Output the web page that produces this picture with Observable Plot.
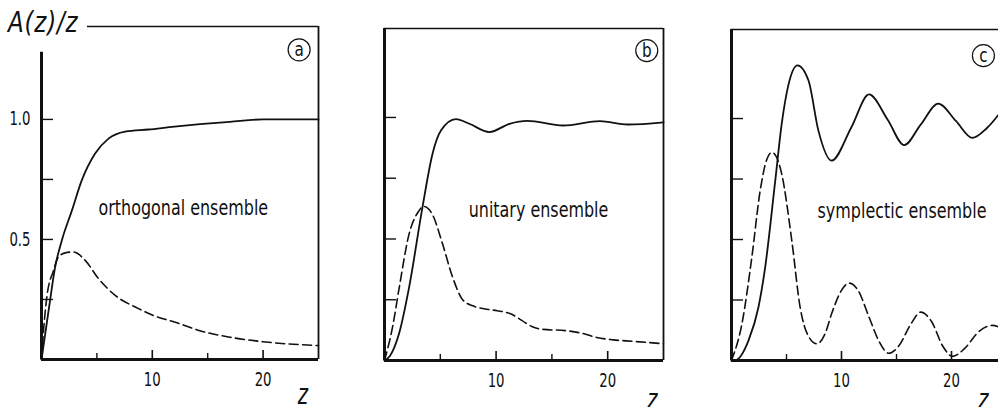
<!DOCTYPE html>
<html>
<head>
<meta charset="utf-8">
<script src="https://cdn.jsdelivr.net/npm/d3@7"></script>
<script src="https://cdn.jsdelivr.net/npm/@observablehq/plot@0.6"></script>
<style>
  html, body { margin: 0; padding: 0; background: #fff; }
  #fig {
    position: relative; width: 998px; height: 407px; overflow: hidden; background: #fff;
    font-family: "DejaVu Sans", sans-serif; color: #111;
  }
  .panel { position: absolute; top: 0; }
  #ylabel {
    position: absolute; left: 8px; top: 9px; font-style: italic; font-size: 28px;
    letter-spacing: 1px; line-height: 1; white-space: nowrap;
    transform: scaleX(0.82); transform-origin: 0 0;
  }
</style>
</head>
<body>
<div id="fig"><div id="ylabel">A(z)/z</div></div>
<script>
// Orthogonal ensemble (a)
const orthSolidZ = [0, 0.63, 1.23, 1.84, 2.74, 3.64, 4.84, 6.05, 7.55, 9.66, 12, 14.3, 17, 20, 22.5, 25];
const orthSolid  = [0, 0.20, 0.385, 0.497, 0.62, 0.747, 0.858, 0.92, 0.949, 0.958, 0.97, 0.98, 0.99, 1.0, 1.0, 1.0];
const orthDashZ  = [0, 0.2, 0.48, 1.08, 1.53, 2.14, 2.89, 3.94, 5.14, 6.65, 8.75, 10, 12.3, 14.3, 17, 20, 25];
const orthDash   = [0, 0.13, 0.26, 0.37, 0.427, 0.444, 0.448, 0.413, 0.337, 0.267, 0.212, 0.185, 0.152, 0.12, 0.093, 0.074, 0.058];

// Unitary ensemble (b)
const unitSolidZ = [0, 0.5, 1.3, 2.2, 3.4, 4.3, 5.07, 6.4, 7.6, 9.4, 11.2, 12.8, 16, 19.3, 21.8, 25];
const unitSolid  = [0, 0.02, 0.11, 0.30, 0.63, 0.85, 0.947, 0.993, 0.974, 0.94, 0.974, 0.986, 0.967, 0.985, 0.971, 0.98];
const unitDashZ  = [0, 0.72, 1.32, 2.2, 3.0, 3.5, 4.3, 5.2, 6.1, 7.0, 7.9, 9.0, 10.1, 11.4, 12.3, 13.2, 14.2, 16.2, 17.7, 19, 20.5, 22.2, 25];
const unitDash   = [0, 0.137, 0.30, 0.52, 0.61, 0.634, 0.60, 0.48, 0.343, 0.25, 0.225, 0.212, 0.205, 0.19, 0.165, 0.14, 0.128, 0.123, 0.112, 0.095, 0.085, 0.079, 0.069];

// Symplectic ensemble (c)
const sympSolidZ = [0, 0.3, 1.55, 2.45, 3.06, 3.97, 4.57, 5.18, 6.0, 7.0, 7.9, 9.1, 10.9, 12.5, 14.2, 15.7, 17.2, 18.8, 20.4, 21.9, 23.2, 25];
const sympSolid  = [0, 0.0, 0.083, 0.22, 0.385, 0.74, 0.98, 1.14, 1.22, 1.157, 0.95, 0.826, 0.964, 1.10, 0.995, 0.89, 0.975, 1.062, 0.99, 0.92, 0.96, 1.06];
const sympDashZ  = [0, 0.94, 1.85, 2.6, 3.2, 3.67, 4.1, 4.57, 5.48, 6.24, 7.0, 7.76, 8.5, 9.1, 10.0, 10.7, 11.5, 12.5, 13.4, 14.3, 15.2, 16.3, 17.2, 18.2, 19.2, 20.1, 21.2, 22.5, 23.7, 25];
const sympDash   = [0, 0.15, 0.427, 0.70, 0.83, 0.86, 0.84, 0.77, 0.496, 0.22, 0.10, 0.069, 0.11, 0.193, 0.29, 0.32, 0.29, 0.18, 0.08, 0.03, 0.06, 0.15, 0.20, 0.16, 0.06, 0.017, 0.05, 0.12, 0.145, 0.12];

// Axis ticks and labels
const majorTicksX = [10, 20];
const minorTicksX = [5, 15];
const ticksY = [0.25, 0.5, 0.75, 1.0];
const labelTicksY = [0.5, 1.0];
const ensembleNames = ["orthogonal ensemble", "unitary ensemble", "symplectic ensemble"];
const panelLetters = ["a", "b", "c"];

const zip = (zs, vs) => zs.map((z, i) => ({z, v: vs[i]}));

const panels = [
  {solid: zip(orthSolidZ, orthSolid), dash: zip(orthDashZ, orthDash),
   left: 0, width: 330, mL: 41, mR: 12, mT: 26, mB: 48, yMax: 1.387,
   leftTop: 1.28, topFrom: 4.15, yLabels: true,
   name: {z: 12.8, v: 0.63}, letter: {z: 23.25, v: 1.29}, zLab: {z: 23.6, dy: 44}},
  {solid: zip(unitSolidZ, unitSolid), dash: zip(unitDashZ, unitDash),
   left: 340, width: 330, mL: 44, mR: 7, mT: 28, mB: 47, yMax: 1.366,
   leftTop: 1.366, topFrom: 0, yLabels: false,
   name: {z: 13.8, v: 0.617}, letter: {z: 23.5, v: 1.275}, zLab: {z: 24.0, dy: 48}},
  {solid: zip(sympSolidZ, sympSolid), dash: zip(sympDashZ, sympDash),
   left: 680, width: 340, mL: 51, mR: 14, mT: 29, mB: 47, yMax: 1.368,
   leftTop: 1.368, topFrom: 0, yLabels: false,
   name: {z: 15.5, v: 0.616}, letter: {z: 22.9, v: 1.26}, zLab: {z: 22.9, dy: 48}}
];

const ink = "#111";
const fig = document.getElementById("fig");

// Narrow the glyphs of a text group horizontally, about each text's anchor.
function condense(svg, tag, k) {
  svg.querySelectorAll(`g[aria-description="${tag}"] text`).forEach(t => {
    let tr = t.getAttribute("transform") || "";
    if (!tr) {
      const x = +(t.getAttribute("x") || 0), y = +(t.getAttribute("y") || 0);
      t.removeAttribute("x"); t.removeAttribute("y");
      tr = `translate(${x},${y})`;
    }
    t.setAttribute("transform", `${tr} scale(${k},1)`);
  });
}

panels.forEach((p, i) => {
  const marks = [
    // frame
    Plot.ruleY([0], {stroke: ink, strokeWidth: 3}),
    Plot.ruleX([0], {y1: 0, y2: p.leftTop, stroke: ink, strokeWidth: 3}),
    Plot.ruleX([25], {stroke: ink, strokeWidth: 1.8}),
    Plot.ruleY([p.yMax], {x1: p.topFrom, x2: 25, stroke: ink, strokeWidth: 1.6}),
    // inward ticks
    Plot.axisY({ticks: ticksY, tickSize: -12, tickFormat: () => "", label: null, stroke: ink, strokeWidth: 1.4}),
    Plot.axisX({ticks: majorTicksX, tickSize: -9, tickFormat: () => "", label: null, stroke: ink, strokeWidth: 1.6}),
    Plot.axisX({ticks: minorTicksX, tickSize: -6, tickFormat: () => "", label: null, stroke: ink, strokeWidth: 1.4}),
    Plot.axisX({ticks: majorTicksX, tickSize: 0, tickPadding: 13, label: null, fontSize: 19, fill: ink, ariaDescription: "xlab"}),
    // curves
    Plot.line(p.solid, {x: "z", y: "v", curve: "monotone-x", stroke: ink, strokeWidth: 1.8}),
    Plot.line(p.dash, {x: "z", y: "v", curve: "monotone-x", stroke: ink, strokeWidth: 1.6, strokeDasharray: "9,4.5"}),
    // annotations
    Plot.text([ensembleNames[i]], {x: () => p.name.z, y: () => p.name.v, text: d => d, fontSize: 21, fill: ink, ariaDescription: "name"}),
    Plot.dot([panelLetters[i]], {x: () => p.letter.z, y: () => p.letter.v, r: 11, stroke: ink, strokeWidth: 1.2, fill: "white"}),
    Plot.text([panelLetters[i]], {x: () => p.letter.z, y: () => p.letter.v, text: d => d, fontSize: 19, fill: ink, ariaDescription: "letter"}),
    Plot.text(["z"], {x: () => p.zLab.z, y: () => 0, text: d => d, dy: p.zLab.dy, lineAnchor: "bottom", fontSize: 28, fontStyle: "italic", fill: ink, ariaDescription: "zlab"})
  ];
  if (p.yLabels) {
    marks.push(Plot.axisY({ticks: labelTicksY, tickSize: 0, tickPadding: 11, tickFormat: d3.format(".1f"), label: null, fontSize: 19, fill: ink, ariaDescription: "ylab"}));
  }
  const svg = Plot.plot({
    width: p.width, height: 407,
    marginLeft: p.mL, marginRight: p.mR, marginTop: p.mT, marginBottom: p.mB,
    x: {domain: [0, 25]},
    y: {domain: [0, p.yMax]},
    style: {background: "transparent", overflow: "visible", fontFamily: "'DejaVu Sans', sans-serif", color: ink},
    marks
  });
  condense(svg, "xlab", 0.7);
  condense(svg, "ylab", 0.7);
  condense(svg, "name", 0.76);
  condense(svg, "letter", 0.8);
  condense(svg, "zlab", 0.7);
  svg.classList.add("panel");
  svg.style.left = p.left + "px";
  fig.appendChild(svg);
});
// keep the axis title above the panels
fig.appendChild(document.getElementById("ylabel"));
</script>
</body>
</html>
